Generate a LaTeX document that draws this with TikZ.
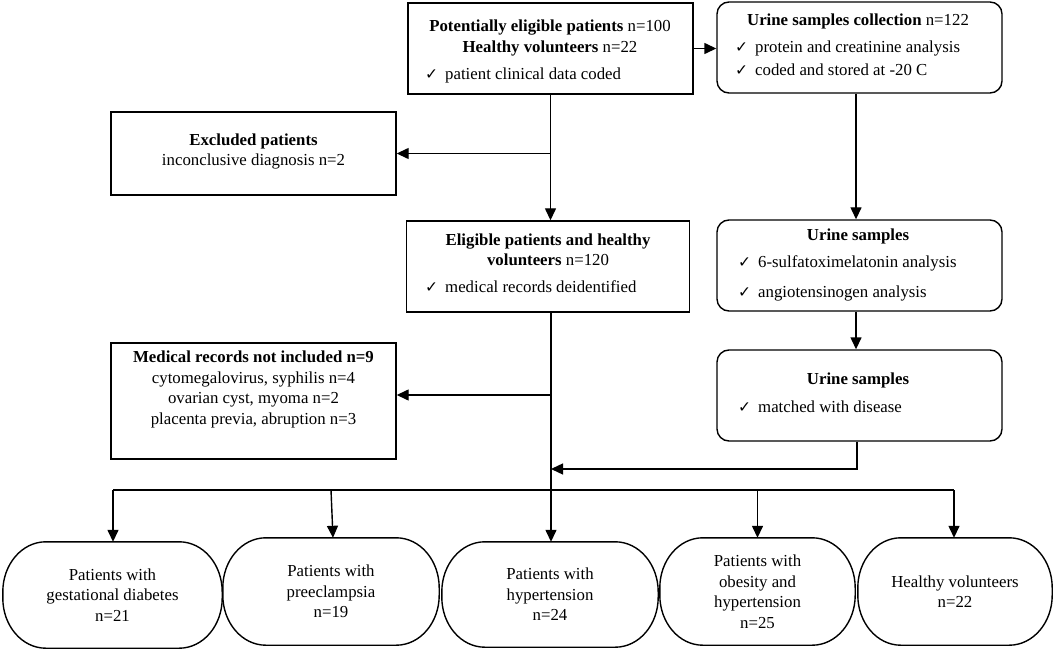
\documentclass[tikz,border=0pt]{standalone}
\usepackage{fontspec}
\setmainfont{Liberation Serif}
\newfontfamily\symfont{DejaVu Sans}
\usetikzlibrary{arrows.meta}
\newcommand{\ck}{\makebox[20pt][l]{\symfont\fontsize{15.5}{16}\selectfont ✓}}
\newcommand{\pillshape}[1]{%
  \draw[ln] ([xshift=43pt]#1.north west) -- ([xshift=-43pt]#1.north east)
    arc[start angle=90,end angle=0,x radius=43pt,y radius=50pt]
    -- ([yshift=50pt]#1.south east)
    arc[start angle=0,end angle=-90,x radius=43pt,y radius=50pt]
    -- ([xshift=43pt]#1.south west)
    arc[start angle=270,end angle=180,x radius=43pt,y radius=50pt]
    -- ([yshift=-50pt]#1.north west)
    arc[start angle=180,end angle=90,x radius=43pt,y radius=50pt] -- cycle;}
\begin{document}
\begin{tikzpicture}[x=1pt,y=-1pt,
  font=\fontsize{16.8}{20.5}\selectfont,
  ln/.style={line width=1.4pt},
  box/.style={draw, line width=1.4pt, inner sep=0pt},
  rbox/.style={box, rounded corners=12pt},
  pill/.style={inner sep=0pt, align=center},
  ctxt/.style={inner sep=0pt, anchor=mid},
  ltxt/.style={inner sep=0pt, anchor=mid west},
  arr/.style={line width=1.4pt, -{Triangle[length=12pt,width=11pt]}}
]
\useasboundingbox (0,0) rectangle (1059,652);

% boxes
\node[box, minimum width=285pt, minimum height=91pt] (b1) at (550.5,48.5) {};
\node[rbox, minimum width=285pt, minimum height=91pt] (b2) at (859.5,47.5) {};
\node[box, minimum width=285pt, minimum height=83pt] (excl) at (253.5,153.5) {};
\node[box, minimum width=283pt, minimum height=91pt] (elig) at (548,266.5) {};
\node[rbox, minimum width=285pt, minimum height=91pt] (u2) at (859.5,265.5) {};
\node[rbox, minimum width=285pt, minimum height=91pt] (u3) at (859.5,395.5) {};
\node[box, minimum width=285pt, minimum height=116pt] (med) at (253.5,401) {};

% box texts
\node[ctxt] (b1a) at (550,29) {\textbf{Potentially eligible patients} n=100};
\node[ctxt] (b1b) at (550,50) {\textbf{Healthy volunteers} n=22};
\node[ltxt] (b1c) at (425,77) {\ck patient clinical data coded};

\node[ctxt] (b2a) at (858,23) {\textbf{Urine samples collection} n=122};
\node[ltxt] (b2b) at (735,50) {\ck protein and creatinine analysis};
\node[ltxt] (b2c) at (735,73) {\ck coded and stored at -20 C};

\node[ctxt] (exa) at (253.5,143) {\textbf{Excluded patients}};
\node[ctxt] (exb) at (253.5,163) {inconclusive diagnosis n=2};

\node[ctxt] (ela) at (548,243) {\textbf{Eligible patients and healthy}};
\node[ctxt] (elb) at (548,263) {\textbf{volunteers} n=120};
\node[ltxt] (elc) at (425,290) {\ck medical records deidentified};

\node[ctxt] (u2a) at (858,238) {\textbf{Urine samples}};
\node[ltxt] (u2b) at (738,265) {\ck 6-sulfatoximelatonin analysis};
\node[ltxt] (u2c) at (738,295) {\ck angiotensinogen analysis};

\node[ctxt] (u3a) at (858,382) {\textbf{Urine samples}};
\node[ltxt] (u3b) at (738,410) {\ck matched with disease};

\node[ctxt] (mda) at (253.5,360) {\textbf{Medical records not included n=9}};
\node[ctxt] (mdb) at (253.5,381) {cytomegalovirus, syphilis n=4};
\node[ctxt] (mdc) at (253.5,401.5) {ovarian cyst, myoma n=2};
\node[ctxt] (mdd) at (253.5,422) {placenta previa, abruption n=3};

% bottom nodes
\node[pill, minimum width=219pt, minimum height=106pt] (n1) at (112.5,595) {Patients with\\gestational diabetes\\n=21};
\node[pill, minimum width=216pt, minimum height=107pt] (n2) at (331,591.5) {Patients with\\preeclampsia\\n=19};
\node[pill, minimum width=216pt, minimum height=105pt] (n3) at (550,594.5) {Patients with\\hypertension\\n=24};
\node[pill, minimum width=195pt, minimum height=107pt] (n4) at (757.5,591.5) {Patients with\\obesity and\\hypertension\\n=25};
\node[pill, minimum width=194pt, minimum height=107pt] (n5) at (955,591.5) {Healthy volunteers\\n=22};
\pillshape{n1}
\pillshape{n2}
\pillshape{n3}
\pillshape{n4}
\pillshape{n5}

% connectors
\coordinate (rc) at (856,0);
\coordinate (mc) at (551,0);
\coordinate (ma) at (551,395);
\coordinate (mg) at (551,469);
\coordinate (busL) at (113,490);
\coordinate (busR) at (954,490);

\draw[arr] (b1.east) -- (b1.east -| b2.west);
\draw[arr] (b1.south) -- (b1.south |- elig.north);
\draw[arr] (b1.south |- excl.east) -- (excl.east);
\draw[arr] (rc |- b2.south) -- (rc |- u2.north);
\draw[arr] (rc |- u2.south) -- (rc |- u3.north);
\draw[arr] ([xshift=-2.5pt]u3.south) |- (mg);
\draw[arr] (mc |- elig.south) -- (mc |- n3.north);
\draw[arr] (ma) -- (ma -| med.east);
\draw[ln] (busL) -- (busR);
\draw[arr] (busL) -- (busL |- n1.north);
\draw[arr] (n2.north |- busL) -- ([xshift=2pt]n2.north);
\draw[arr] (n4.north |- busL) -- (n4.north);
\draw[arr] (busR) -- (busR |- n5.north);
\end{tikzpicture}
\end{document}
